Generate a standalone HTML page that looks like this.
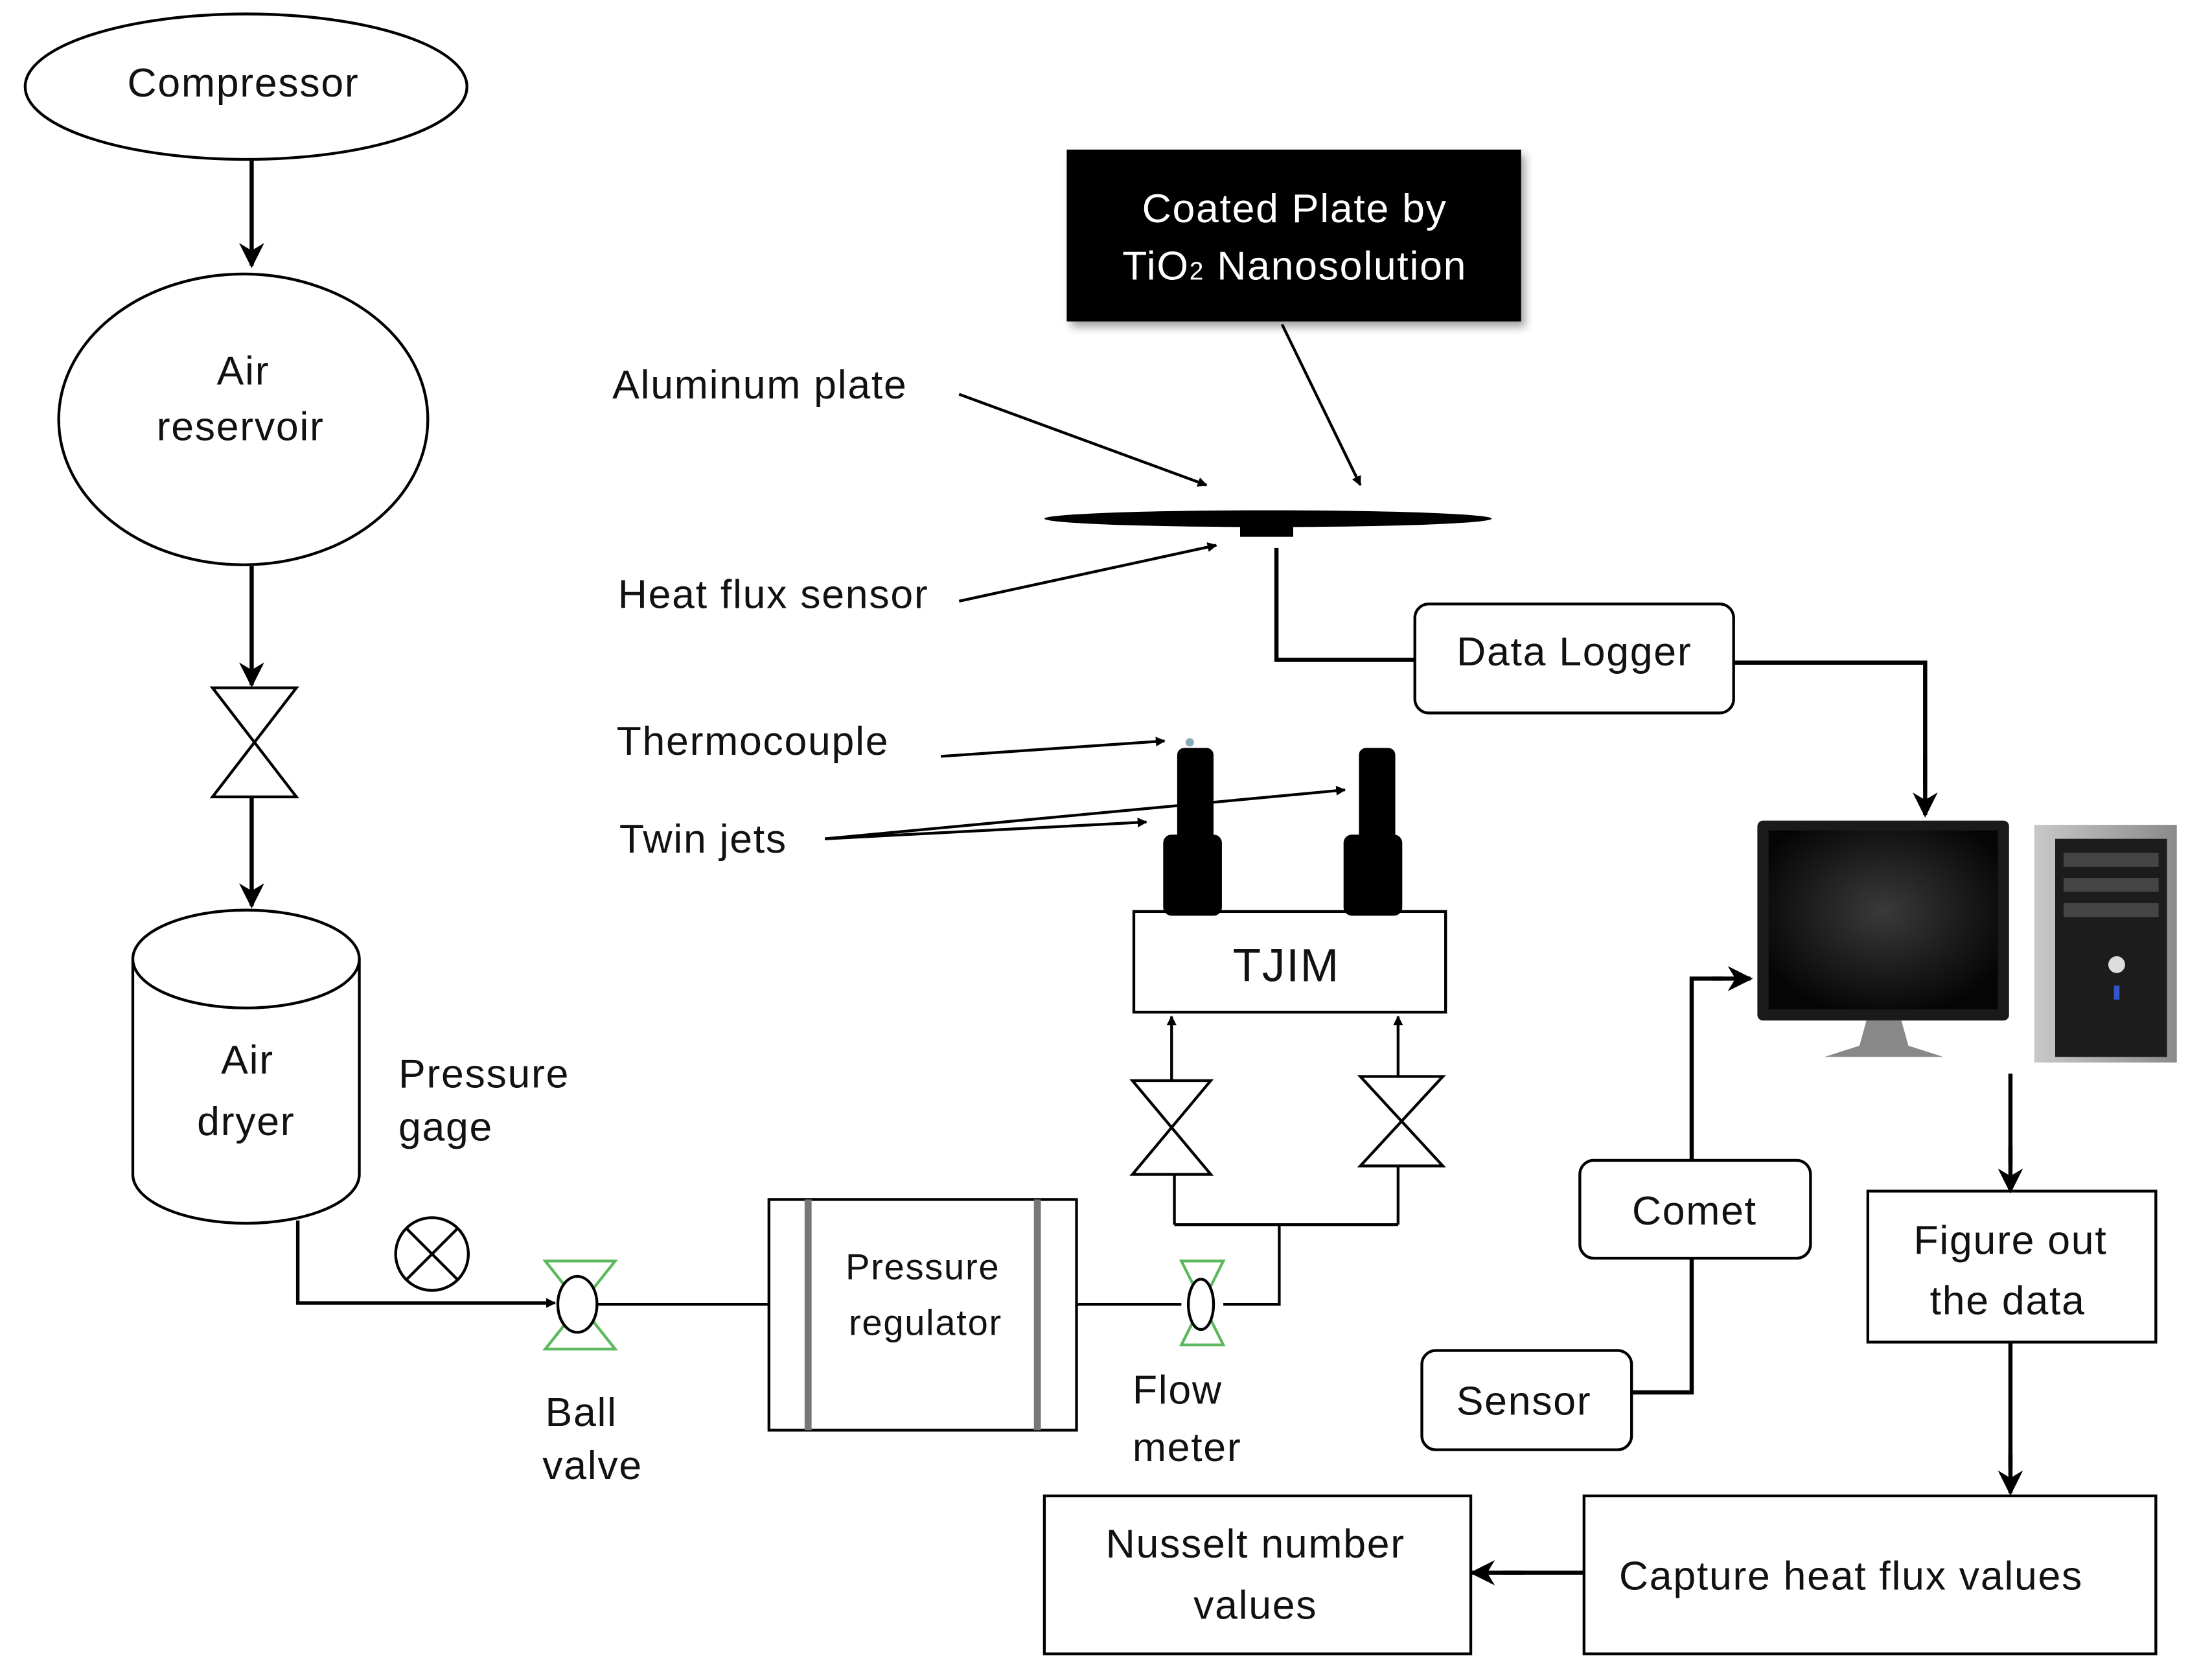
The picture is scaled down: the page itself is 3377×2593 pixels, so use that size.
<!DOCTYPE html>
<html><head><meta charset="utf-8"><style>
html,body{margin:0;padding:0;background:#fff;}
svg{display:block;}
text{font-family:"Liberation Sans",sans-serif;font-size:29px;fill:#111;letter-spacing:0.8px;}
</style></head><body>
<svg width="3377" height="2593" viewBox="0 0 1565 1201.7" preserveAspectRatio="none" xmlns="http://www.w3.org/2000/svg">
<defs>
<marker id="ah" viewBox="0 0 10 10" refX="9" refY="5" markerWidth="7" markerHeight="7" orient="auto" markerUnits="userSpaceOnUse">
<path d="M0,0 L10,5 L0,10 z" fill="#000"/></marker>
<marker id="ab" viewBox="0 0 10 10" refX="9" refY="5" markerWidth="18" markerHeight="18" orient="auto" markerUnits="userSpaceOnUse">
<path d="M0,0 L10,5 L0,10 L3,5 z" fill="#000"/></marker>
<radialGradient id="scr" cx="0.5" cy="0.45" r="0.6"><stop offset="0" stop-color="#3a3a3a"/><stop offset="1" stop-color="#050505"/></radialGradient>
<linearGradient id="tw" x1="0" x2="1"><stop offset="0" stop-color="#c8c8c8"/><stop offset="1" stop-color="#8a8a8a"/></linearGradient>
<filter id="sh" x="-10%" y="-10%" width="130%" height="140%"><feDropShadow dx="3" dy="4" stdDeviation="3" flood-color="#000" flood-opacity="0.35"/></filter>
</defs>
<g stroke="#000" stroke-width="2" fill="none">
<ellipse cx="176" cy="62" rx="158" ry="52"/>
<ellipse cx="174" cy="300" rx="132" ry="104"/>
<path d="M152,492 L212,492 L152,570 L212,570 Z"/>
<path d="M95,686 L95,840 A81,35 0 0 0 257,840 L257,686"/>
<ellipse cx="176" cy="686" rx="81" ry="35"/>
<path d="M213,873 L213,932 L395,932" stroke-width="2.5"/>
<circle cx="309" cy="897" r="26" fill="#fff"/>
<path d="M291,879 L327,915 M327,879 L291,915"/>
<path d="M428,933 L550,933 M770,933 L845,933 M875,933 L915,933 L915,876 M840,876 L1000,876 M840,876 L840,840 M1000,876 L1000,834" stroke-width="2"/>
<rect x="550" y="858" width="220" height="165"/>
<path d="M578,858 L578,1023 M742,858 L742,1023" stroke="#777" stroke-width="5"/>
<path d="M810,773 L866,773 L810,840 L866,840 Z"/>
<path d="M973,770 L1032,770 L973,834 L1032,834 Z"/>
<rect x="811" y="652" width="223" height="72"/>
<rect x="1012" y="432" width="228" height="78" rx="10"/>
<rect x="1130" y="830" width="165" height="70" rx="10"/>
<rect x="1017" y="966" width="150" height="71" rx="10"/>
<rect x="1336" y="852" width="206" height="108"/>
<rect x="1133" y="1070" width="409" height="113"/>
<rect x="747" y="1070" width="305" height="113"/>
<path d="M913,392 L913,472 L1012,472 M1240,474 L1377,474 L1377,560 M1438,768 L1438,832 M1438,960 L1438,1050 M1133,1125 L1075,1125 M1210,830 L1210,700 L1232,700 M1167,996 L1210,996 L1210,900" stroke-width="3"/>
</g>
<g stroke="#000" stroke-width="3" fill="none">
<path d="M180,115 L180,190" marker-end="url(#ab)"/>
<path d="M180,405 L180,490" marker-end="url(#ab)"/>
<path d="M180,570 L180,648" marker-end="url(#ab)"/>
<path d="M1377,540 L1377,583" marker-end="url(#ab)"/>
<path d="M1438,820 L1438,852" marker-end="url(#ab)"/>
<path d="M1438,1040 L1438,1068" marker-end="url(#ab)"/>
<path d="M1090,1125 L1053,1125" marker-end="url(#ab)"/>
<path d="M1225,700 L1252,700" marker-end="url(#ab)"/>
</g>
<g stroke="#000" stroke-width="2" fill="none">
<path d="M380,932 L397,932" marker-end="url(#ah)"/>
<path d="M838,773 L838,727" marker-end="url(#ah)"/>
<path d="M1000,770 L1000,727" marker-end="url(#ah)"/>
<path d="M673,541 L833,530" marker-end="url(#ah)"/>
<path d="M590,600 L820,588" marker-end="url(#ah)"/>
<path d="M590,600 L962,565" marker-end="url(#ah)"/>
<path d="M917,232 L973,347" marker-end="url(#ah)"/>
<path d="M686,282 L863,347" marker-end="url(#ah)"/>
<path d="M686,430 L870,390" marker-end="url(#ah)"/>
</g>
<g stroke="#5cb85c" stroke-width="2" fill="none">
<path d="M390,902 L440,902 L390,965 L440,965 Z"/>
<path d="M845,902 L875,902 L845,962 L875,962 Z"/>
</g>
<ellipse cx="413" cy="933" rx="14" ry="20" fill="#fff" stroke="#000" stroke-width="2"/>
<ellipse cx="859" cy="933" rx="9" ry="18" fill="#fff" stroke="#000" stroke-width="2"/>
<ellipse cx="907" cy="371" rx="160" ry="6" fill="#000"/>
<rect x="887" y="376" width="38" height="8" fill="#000"/>
<g fill="#000">
<rect x="842" y="535" width="26" height="70" rx="5"/>
<rect x="832" y="597" width="42" height="58" rx="6"/>
<rect x="972" y="535" width="26" height="70" rx="5"/>
<rect x="961" y="597" width="42" height="58" rx="6"/>
</g>
<circle cx="851" cy="531" r="3" fill="#8ab"/>
<rect x="763" y="107" width="325" height="123" fill="#000" filter="url(#sh)"/>
<text x="926" y="159" text-anchor="middle" style="fill:#fff">Coated Plate by</text>
<text x="926" y="200" text-anchor="middle" style="fill:#fff">TiO<tspan font-size="18">2</tspan> Nanosolution</text>
<rect x="1257" y="587" width="180" height="143" rx="4" fill="#1a1a1a"/>
<rect x="1265" y="594" width="164" height="128" fill="url(#scr)"/>
<path d="M1335,730 L1360,730 L1365,748 L1390,756 L1305,756 L1330,748 Z" fill="#888"/>
<rect x="1455" y="590" width="102" height="170" fill="url(#tw)"/>
<rect x="1470" y="600" width="80" height="156" fill="#1c1c1c"/>
<rect x="1476" y="610" width="68" height="10" fill="#444"/>
<rect x="1476" y="628" width="68" height="10" fill="#444"/>
<rect x="1476" y="646" width="68" height="10" fill="#444"/>
<circle cx="1514" cy="690" r="6" fill="#ddd"/>
<rect x="1512" y="705" width="4" height="10" fill="#3355cc"/>
<g>
<text x="174" y="69" text-anchor="middle">Compressor</text>
<text x="174" y="275" text-anchor="middle">Air</text>
<text x="172" y="315" text-anchor="middle">reservoir</text>
<text x="177" y="768" text-anchor="middle">Air</text>
<text x="176" y="812" text-anchor="middle">dryer</text>
<text x="285" y="778">Pressure</text>
<text x="285" y="816">gage</text>
<text x="390" y="1020">Ball</text>
<text x="388" y="1058">valve</text>
<text x="660" y="915" text-anchor="middle" style="font-size:26px">Pressure</text>
<text x="662" y="955" text-anchor="middle" style="font-size:26px">regulator</text>
<text x="810" y="1004">Flow</text>
<text x="810" y="1045">meter</text>
<text x="920" y="702" text-anchor="middle" style="font-size:33px">TJIM</text>
<text x="441" y="540">Thermocouple</text>
<text x="443" y="610">Twin jets</text>
<text x="438" y="285">Aluminum plate</text>
<text x="442" y="435">Heat flux sensor</text>
<text x="1126" y="476" text-anchor="middle">Data Logger</text>
<text x="1212" y="876" text-anchor="middle">Comet</text>
<text x="1090" y="1012" text-anchor="middle">Sensor</text>
<text x="1438" y="897" text-anchor="middle">Figure out</text>
<text x="1436" y="940" text-anchor="middle">the data</text>
<text x="1324" y="1137" text-anchor="middle">Capture heat flux values</text>
<text x="898" y="1114" text-anchor="middle">Nusselt number</text>
<text x="898" y="1158" text-anchor="middle">values</text>
</g>
</svg>
</body></html>
